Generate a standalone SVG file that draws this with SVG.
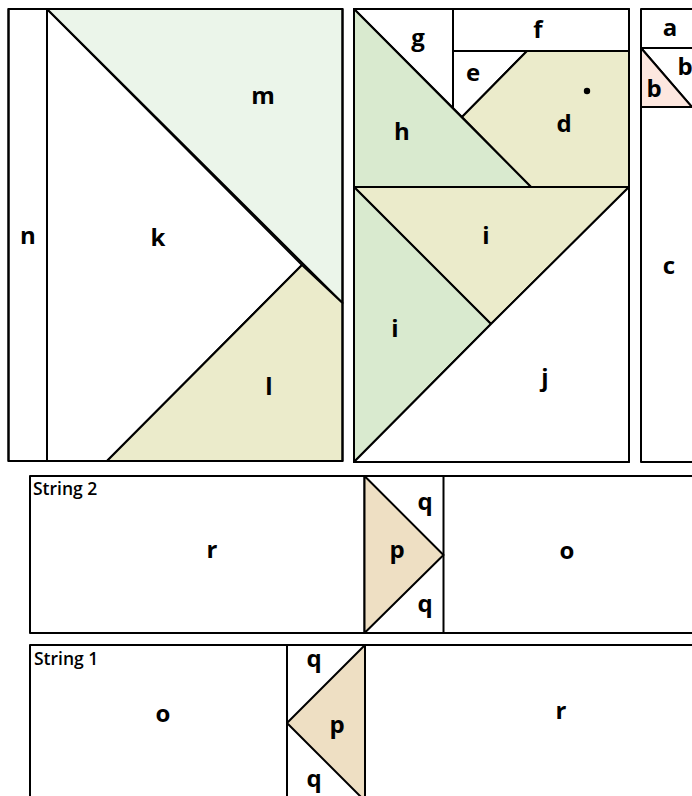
<svg xmlns="http://www.w3.org/2000/svg" width="692" height="796" viewBox="0 0 692 796">
<style>
.s{stroke:#000;stroke-width:2;stroke-linejoin:round}
.w{fill:#fff}
.mg{fill:#EBF5EA}
.ol{fill:#EBEBCB}
.gr{fill:#D9EACF}
.pk{fill:#FDE7DF}
.tn{fill:#EEDFC3}
.lb{font-family:"Open Sans","Liberation Sans",sans-serif;font-weight:700;font-size:24px;text-anchor:middle;fill:#000}
.st{font-family:"Open Sans","Liberation Sans",sans-serif;font-weight:600;font-size:17.5px;fill:#000}
</style>
<rect width="692" height="796" fill="#fff"/>
<g id="block-left">
  <g id="n"><rect class="s w" x="8.5" y="9" width="38.5" height="452"/><text class="lb" x="28" y="244">n</text></g>
  <g id="k"><polygon class="s w" points="47,9 302,265 107,461 47,461"/><text class="lb" x="158" y="246">k</text></g>
  <g id="m"><polygon class="s mg" points="47,9 342.5,9 342.5,303"/><text class="lb" x="263" y="104">m</text></g>
  <g id="l"><polygon class="s ol" points="107,461 302,265 342.5,303 342.5,461"/><text class="lb" x="269" y="395">l</text></g>
  <rect class="s" fill="none" x="8.5" y="9" width="334" height="452"/>
</g>
<g id="block-middle">
  <g id="g"><polygon class="s w" points="354,9 453,9 453,108"/><text class="lb" x="418" y="46">g</text></g>
  <g id="f"><rect class="s w" x="453" y="9" width="176" height="42"/><text class="lb" x="538" y="38">f</text></g>
  <g id="e"><polygon class="s w" points="453,51 527,51 462,117 453,108"/><text class="lb" x="473" y="81">e</text></g>
  <g id="d"><polygon class="s ol" points="527,51 629,51 629,187 531,187 462,117"/><circle cx="587" cy="91" r="3.2" fill="#000"/><text class="lb" x="564" y="132">d</text></g>
  <g id="h"><polygon class="s gr" points="354,9 531,187 354,187"/><text class="lb" x="402" y="140">h</text></g>
  <g id="i-upper"><polygon class="s ol" points="354,187 629,187 491,324"/><text class="lb" x="486" y="244">i</text></g>
  <g id="i-lower"><polygon class="s gr" points="354,187 491,324 354,462"/><text class="lb" x="395" y="337">i</text></g>
  <g id="j"><polygon class="s w" points="491,324 629,187 629,462 354,462"/><text class="lb" x="545" y="386">j</text></g>
  <rect class="s" fill="none" x="354" y="9" width="275" height="453"/>
</g>
<g id="block-right">
  <g id="a"><rect class="s w" x="641" y="9" width="60" height="39"/><text class="lb" x="670" y="36">a</text></g>
  <g id="b-upper"><polygon class="s w" points="641,48 701,48 701,107 692,107"/><text class="lb" x="685" y="75">b</text></g>
  <g id="b-lower"><polygon class="s pk" points="641,48 692,107 641,107"/><text class="lb" x="654" y="97">b</text></g>
  <g id="c"><rect class="s w" x="641" y="107" width="60" height="355"/><text class="lb" x="669" y="274">c</text></g>
</g>
<g id="string-2">
  <rect class="s w" x="30" y="476" width="680" height="157"/>
  <text class="st" x="33" y="495">String 2</text>
  <g id="s2-r"><text class="lb" x="212" y="558">r</text></g>
  <g id="s2-q"><rect class="s w" x="364.5" y="476" width="79" height="157"/><text class="lb" x="425" y="510">q</text><text class="lb" x="425" y="612">q</text></g>
  <g id="s2-p"><polygon class="s tn" points="364.5,476 443.5,555 364.5,633"/><text class="lb" x="397" y="558">p</text></g>
  <g id="s2-o"><text class="lb" x="567" y="559">o</text></g>
</g>
<g id="string-1">
  <rect class="s w" x="30" y="645" width="680" height="170"/>
  <text class="st" x="34" y="665">String 1</text>
  <g id="s1-o"><text class="lb" x="163" y="722">o</text></g>
  <g id="s1-q"><rect class="s w" x="287" y="645" width="78" height="170"/><text class="lb" x="314" y="667">q</text><text class="lb" x="314" y="787">q</text></g>
  <g id="s1-p"><polygon class="s tn" points="365,645 287,723 365,801"/><text class="lb" x="337" y="733">p</text></g>
  <g id="s1-r"><text class="lb" x="561" y="719">r</text></g>
</g>
<g id="connectors"/>
</svg>
